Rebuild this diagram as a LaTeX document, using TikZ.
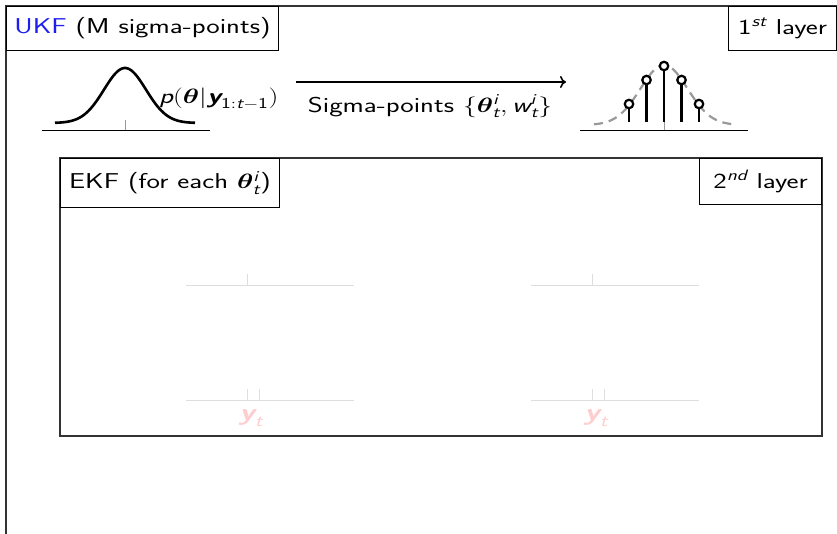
\documentclass[tikz,border=0pt]{standalone}
\usetikzlibrary{arrows.meta}
\usepackage{graphicx}
\usepackage{amsmath,amssymb,bm}
\newcommand{\sit}[1]{\text{\sffamily\mdseries\itshape #1}}
\newcommand{\sbi}[1]{\text{\sffamily\bfseries\itshape #1}}
\newcommand{\sfu}[1]{\text{\sffamily\mdseries\upshape #1}}
\newcommand{\wide}[1]{\scalebox{1.33}[1]{#1}}
\definecolor{ukfblue}{RGB}{30,30,240}
\definecolor{faintgray}{RGB}{222,222,222}
\definecolor{faintpink}{RGB}{255,205,205}
\tikzset{
  labelbox/.style={draw=black, line width=0.9pt, fill=white, inner sep=0pt, align=center, font=\sffamily\fontsize{21.5}{25}\selectfont},
  frame/.style={draw=black!80, line width=1.4pt},
  gauss/.style={line width=2.6pt, black},
  gaussdash/.style={line width=2.2pt, black!40, dash pattern=on 9pt off 6pt},
  axisline/.style={line width=1pt, black},
  tickmark/.style={line width=1pt, black!40},
  faintline/.style={line width=1pt, faintgray},
  stem/.style={line width=2.6pt, black},
  bulb/.style={circle, draw=black, line width=2.2pt, fill=white, minimum size=8.5pt, inner sep=0pt},
  txt/.style={font=\sffamily\fontsize{21.5}{25}\selectfont, inner sep=0pt}
}
\begin{document}
\begin{tikzpicture}[x=1pt,y=-1pt]
\useasboundingbox (0,0) rectangle (837,533);
\clip (0,0) rectangle (837,533);
% outer frame
\draw[frame] (6,560) -- (6,6) -- (850,6);
\node[labelbox, anchor=north west, minimum width=272pt, minimum height=44pt] (ukf) at (6,6) {\wide{\textcolor{ukfblue}{UKF} (M sigma-points)}};
\node[labelbox, anchor=north east, minimum width=108pt, minimum height=44pt] (l1) at (837,6) {\wide{1$^{\sit{st}}$ layer}};

% left gaussian
\draw[axisline] (42,130) -- (210,130);
\draw[tickmark] (125,120) -- (125,130);
\draw[gauss, domain=-70:70, samples=80, smooth] plot ({125+\x},{123-55*exp(-(\x*\x)/(2*21*21))});
\node[txt, anchor=west] (plabel) at (159,99) {\wide{$\sit{p}(\bm{\theta}|\sbi{y}_{\sfu{1}:\sit{t}-\sfu{1}})$}};

% arrow
\coordinate (as) at (296,82);
\coordinate (ae) at (566,82);
\draw[line width=1.6pt, -{To[length=6pt,width=12pt]}] (as) -- (ae);
\node[txt] (sp) at (430,106) {\wide{Sigma-points $\{\bm{\theta}^{\sit{i}}_{\sit{t}},\sit{w}^{\sit{i}}_{\sit{t}}\}$}};

% right sigma points
\draw[axisline] (580,130) -- (748,130);
\draw[tickmark] (664,120) -- (664,130);
\draw[gaussdash, domain=-70:70, samples=80, smooth] plot ({664+\x},{125-60*exp(-(\x*\x)/(2*23.5*23.5))});
\foreach \o/\h [count=\k] in {-35/104,-17.5/80,0/66,17.5/80,35/104}{
  \draw[stem] (664+\o,122) -- (664+\o,\h);
  \node[bulb] (s\k) at (664+\o,\h) {};
}

% inner EKF frame
\draw[frame, line width=1.3pt] (60,158) rectangle (822,436);
\node[labelbox, anchor=north west, minimum width=219pt, minimum height=49pt] (ekf) at (60,158) {\wide{EKF (for each $\bm{\theta}^{\sit{i}}_{\sit{t}}$)}};
\node[labelbox, anchor=north east, minimum width=122pt, minimum height=46pt] (l2) at (822,158) {\wide{2$^{\sit{nd}}$ layer}};

% faint panels
\foreach \xo/\n in {0/a,345/b}{
  \draw[faintline] (186+\xo,285) -- (354+\xo,285);
  \draw[faintline] (247+\xo,274) -- (247+\xo,285);
  \draw[faintline] (186+\xo,400) -- (354+\xo,400);
  \draw[faintline] (247+\xo,389) -- (247+\xo,400);
  \draw[faintline] (259+\xo,389) -- (259+\xo,400);
  \node[txt, text=faintpink, font=\sffamily\fontsize{24}{28}\selectfont] (y\n) at (251+\xo,418) {\wide{$\sbi{y}_{\sit{t}}$}};
}
\end{tikzpicture}
\end{document}
